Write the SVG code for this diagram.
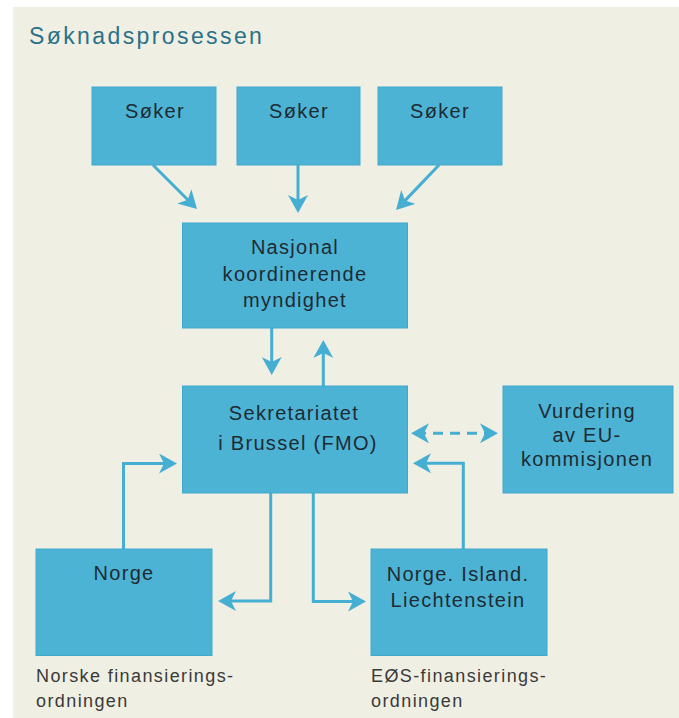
<svg xmlns="http://www.w3.org/2000/svg" width="679" height="718" viewBox="0 0 679 718">
<defs>
<style>
.box{fill:#4db3d5;stroke:#3fa9cd;stroke-width:1}
.t{font-family:"Liberation Sans",Arial,sans-serif;font-size:20px;fill:#1d2b33;text-anchor:middle;letter-spacing:1.3px}
.lab{font-family:"Liberation Sans",Arial,sans-serif;font-size:18px;fill:#3a3a3a;letter-spacing:1.4px}
.title{font-family:"Liberation Sans",Arial,sans-serif;font-size:23px;fill:#2a7189;letter-spacing:2.4px}
.c{fill:none;stroke:#45aed3;stroke-width:3}
.d{stroke-dasharray:10 7}
</style>
<marker id="ah" viewBox="0 0 18 20" refX="13" refY="10" markerWidth="18" markerHeight="20" markerUnits="userSpaceOnUse" orient="auto-start-reverse">
<path d="M0,0 L18,10 L0,20 L5,10 z" fill="#45aed3"/>
</marker>
</defs>
<rect x="0" y="0" width="679" height="718" fill="#ffffff"/>
<rect x="13" y="7" width="666" height="711" fill="#f0efe3"/>
<text class="title" x="29" y="44">Søknadsprosessen</text>

<g id="connectors">
<path class="c" d="M153,165 L193.5,205.5" marker-end="url(#ah)"/>
<path class="c" d="M298,165 V208" marker-end="url(#ah)"/>
<path class="c" d="M439,165 L399.5,206.4" marker-end="url(#ah)"/>
<path class="c" d="M271.7,328 V370" marker-end="url(#ah)"/>
<path class="c" d="M323.3,386 V345" marker-end="url(#ah)"/>
<path class="c d" d="M416,433.3 H493" marker-start="url(#ah)" marker-end="url(#ah)"/>
<path class="c" d="M123.5,549 V463.5 H172" marker-end="url(#ah)"/>
<path class="c" d="M270.7,493 V601 H223" marker-end="url(#ah)"/>
<path class="c" d="M313.3,493 V601.5 H361" marker-end="url(#ah)"/>
<path class="c" d="M463.3,549 V463.3 H418" marker-end="url(#ah)"/>
</g>

<g id="soker1"><rect class="box" x="92" y="87" width="124" height="78"/><text class="t" x="155" y="118">Søker</text></g>
<g id="soker2"><rect class="box" x="237" y="87" width="123" height="78"/><text class="t" x="299" y="118">Søker</text></g>
<g id="soker3"><rect class="box" x="378" y="87" width="124" height="78"/><text class="t" x="440" y="118">Søker</text></g>

<g id="nasjonal"><rect class="box" x="182.5" y="223" width="225" height="105"/>
<text class="t" x="295" y="254">Nasjonal</text>
<text class="t" x="295" y="280.5">koordinerende</text>
<text class="t" x="295" y="307">myndighet</text></g>

<g id="sekretariatet"><rect class="box" x="182.5" y="386" width="225" height="107"/>
<text class="t" x="294" y="420">Sekretariatet</text>
<text class="t" x="298" y="450">i Brussel (FMO)</text></g>

<g id="vurdering"><rect class="box" x="503" y="386" width="170" height="107"/>
<text class="t" x="587" y="418">Vurdering</text>
<text class="t" x="587" y="442">av EU-</text>
<text class="t" x="587" y="466">kommisjonen</text></g>

<g id="norge"><rect class="box" x="36" y="549" width="176" height="106.5"/>
<text class="t" x="124" y="580">Norge</text>
<text class="lab" x="36" y="682">Norske finansierings-</text>
<text class="lab" x="36" y="706.5">ordningen</text></g>

<g id="nil"><rect class="box" x="371" y="549" width="176" height="106.5"/>
<text class="t" x="458" y="581">Norge. Island.</text>
<text class="t" x="458" y="606.5">Liechtenstein</text>
<text class="lab" x="371" y="682">EØS-finansierings-</text>
<text class="lab" x="371" y="706.5">ordningen</text></g>
</svg>
